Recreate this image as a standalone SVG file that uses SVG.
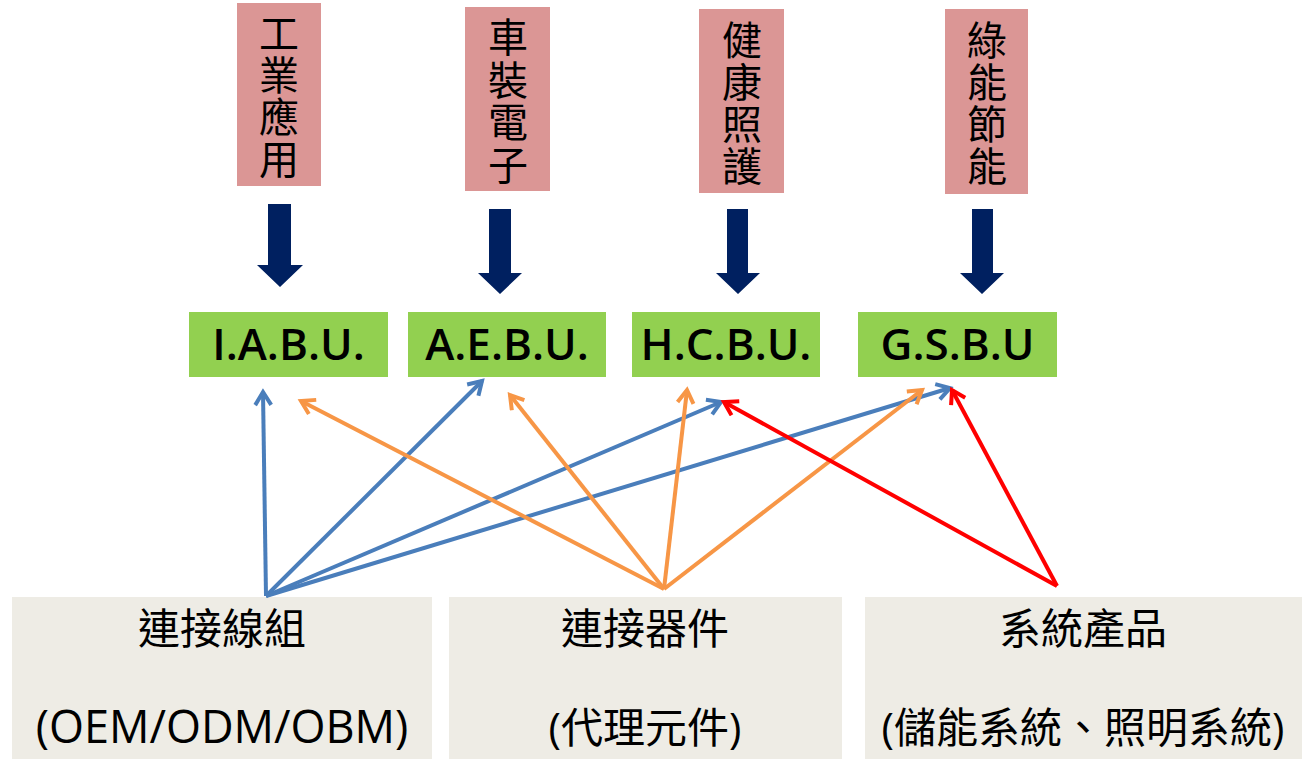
<svg xmlns="http://www.w3.org/2000/svg" width="1302" height="759" viewBox="0 0 1302 759">
<style>
.pink{fill:#DB9695}
.green{fill:#92D050}
.gray{fill:#EEECE5}
.vt{font-family:"Liberation Serif","Noto Sans CJK TC","Noto Sans CJK SC",sans-serif;font-size:40px;fill:#000;text-anchor:middle}
.bu{font-family:"Open Sans","Noto Sans",sans-serif;font-size:44px;font-weight:600;fill:#000;text-anchor:middle}
.gt{font-family:"Open Sans","Noto Sans CJK TC",sans-serif;font-size:42px;fill:#000;text-anchor:middle}
.lat{font-size:45px}
.navy{fill:#002060}
.b{stroke:#4A7EBB;stroke-width:4;fill:none;marker-end:url(#mb)}
.o{stroke:#F79646;stroke-width:4;fill:none;marker-end:url(#mo)}
.r{stroke:#FF0000;stroke-width:4;fill:none;marker-end:url(#mr)}
</style>
<defs>
<marker id="mb" markerUnits="userSpaceOnUse" viewBox="-16 -10 20 20" refX="0" refY="0" markerWidth="20" markerHeight="20" orient="auto"><path d="M-13,-8 L0,0 L-13,8" fill="none" stroke="#4A7EBB" stroke-width="4"/></marker>
<marker id="mo" markerUnits="userSpaceOnUse" viewBox="-16 -10 20 20" refX="0" refY="0" markerWidth="20" markerHeight="20" orient="auto"><path d="M-13,-8 L0,0 L-13,8" fill="none" stroke="#F79646" stroke-width="4"/></marker>
<marker id="mr" markerUnits="userSpaceOnUse" viewBox="-16 -10 20 20" refX="0" refY="0" markerWidth="20" markerHeight="20" orient="auto"><path d="M-13,-8 L0,0 L-13,8" fill="none" stroke="#FF0000" stroke-width="4"/></marker>
</defs>
<rect width="1302" height="759" fill="#fff"/>

<g id="n-industrial">
<rect class="pink" x="237" y="3" width="84" height="183"/>
<text class="vt" x="279" y="48">工</text>
<text class="vt" x="279" y="90">業</text>
<text class="vt" x="279" y="132">應</text>
<text class="vt" x="279" y="174">用</text>
</g>
<g id="n-automotive">
<rect class="pink" x="465" y="7" width="85" height="184"/>
<text class="vt" x="508" y="52">車</text>
<text class="vt" x="508" y="94.5">裝</text>
<text class="vt" x="508" y="137">電</text>
<text class="vt" x="508" y="179.5">子</text>
</g>
<g id="n-health">
<rect class="pink" x="699" y="9" width="85" height="184"/>
<text class="vt" x="742" y="55">健</text>
<text class="vt" x="742" y="97">康</text>
<text class="vt" x="742" y="139">照</text>
<text class="vt" x="742" y="181">護</text>
</g>
<g id="n-green">
<rect class="pink" x="945" y="9" width="83" height="185"/>
<text class="vt" x="987" y="55">綠</text>
<text class="vt" x="987" y="97">能</text>
<text class="vt" x="987" y="139">節</text>
<text class="vt" x="987" y="181">能</text>
</g>

<g id="block-arrows">
<polygon class="navy" points="268,204 291,204 291,265 303,265 280,287 257,265 268,265"/>
<polygon class="navy" points="489,209 511,209 511,273 522,273 500,294 478,273 489,273"/>
<polygon class="navy" points="727,209 748,209 748,273 760,273 738,294 716,273 727,273"/>
<polygon class="navy" points="972,209 993,209 993,273 1004,273 982,294 960,273 972,273"/>
</g>

<g id="n-iabu">
<rect class="green" x="189" y="312" width="199" height="65"/>
<text class="bu" x="288.5" y="360">I.A.B.U.</text>
</g>
<g id="n-aebu">
<rect class="green" x="408" y="312" width="198" height="65"/>
<text class="bu" x="507" y="360">A.E.B.U.</text>
</g>
<g id="n-hcbu">
<rect class="green" x="632" y="312" width="188" height="65"/>
<text class="bu" x="726" y="360">H.C.B.U.</text>
</g>
<g id="n-gsbu">
<rect class="green" x="858" y="312" width="199" height="65"/>
<text class="bu" x="957.5" y="360">G.S.B.U</text>
</g>

<g id="n-cable">
<rect class="gray" x="12" y="597" width="420" height="162"/>
<text class="gt" x="222" y="644">連接線組</text>
<text class="gt lat" x="222" y="743">(OEM/ODM/OBM)</text>
</g>
<g id="n-connector">
<rect class="gray" x="449" y="597" width="393" height="162"/>
<text class="gt" x="645" y="644">連接器件</text>
<text class="gt" x="645" y="743">(代理元件)</text>
</g>
<g id="n-system">
<rect class="gray" x="865" y="597" width="437" height="162"/>
<text class="gt" x="1083" y="644">系統產品</text>
<text class="gt" x="1083" y="743">(儲能系統、照明系統)</text>
</g>

<g id="connectors">
<line class="b" x1="266" y1="596" x2="263" y2="392"/>
<line class="b" x1="266" y1="596" x2="482" y2="381"/>
<line class="b" x1="266" y1="596" x2="721" y2="402"/>
<line class="b" x1="266" y1="596" x2="950" y2="388"/>
<line class="o" x1="664" y1="589" x2="301" y2="401"/>
<line class="o" x1="664" y1="589" x2="510" y2="395"/>
<line class="o" x1="664" y1="589" x2="687" y2="390"/>
<line class="o" x1="664" y1="589" x2="922" y2="390"/>
<line class="r" x1="1057" y1="586" x2="724" y2="402"/>
<line class="r" x1="1057" y1="586" x2="952" y2="390"/>
</g>
</svg>
